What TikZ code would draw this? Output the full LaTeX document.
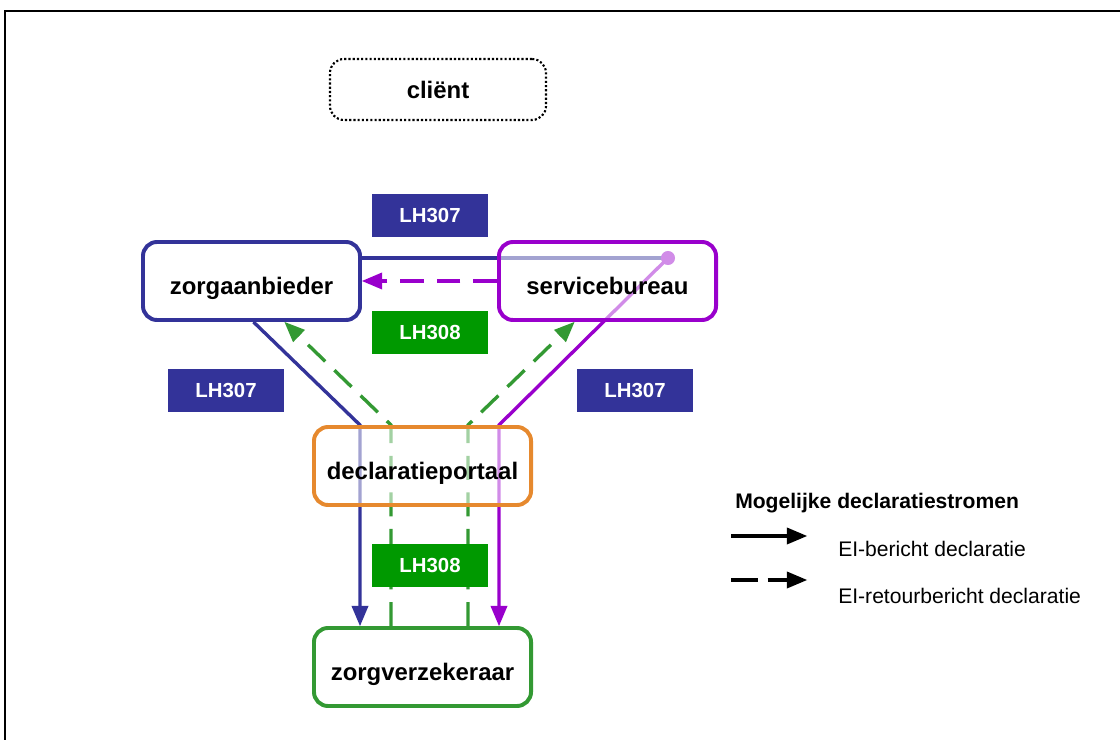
\documentclass[tikz,border=0pt]{standalone}
\usepackage{fontspec}
\setmainfont{Liberation Sans}
\usetikzlibrary{calc}
\usetikzlibrary{arrows}
\usetikzlibrary{backgrounds}
\definecolor{lhblue}{HTML}{333399}
\definecolor{lhpurple}{HTML}{9900CC}
\definecolor{lhgreen}{HTML}{339933}
\definecolor{lhlabelgreen}{HTML}{009900}
\definecolor{lhorange}{HTML}{E6892E}

\begin{document}
\begin{tikzpicture}[x=0.025cm, y=-0.025cm]
  \tikzset{mybox/.style={rectangle, rounded corners=10pt, inner sep=0pt, minimum width=5.425cm, minimum height=1.95cm, line width=2.8pt, fill=white, fill opacity=0.55, text opacity=1, font=\bfseries\fontsize{17}{20}\selectfont}};
  \tikzset{mypartner/.style={mybox, text height=19pt, text depth=0pt}};
  \tikzset{mylabel/.style={rectangle, inner sep=0pt, minimum width=2.9cm, minimum height=1.075cm, text=white, font=\bfseries\fontsize{14.5}{17}\selectfont}};
  \tikzset{myedge/.style={->, line width=2.4pt, >=triangle 45}};
  \tikzset{mydashed/.style={myedge, dash pattern=on 17pt off 9pt}};
  \tikzset{legtext/.style={anchor=west, inner sep=0pt, font=\fontsize{15}{18}\selectfont}};

  \useasboundingbox (0,0) rectangle (1120,740);
  \draw [line width=1.5pt] (5,11) rectangle (1130,750);

  \node[mybox, draw=black, line width=1.5pt, dash pattern=on 1.5pt off 1.5pt, minimum width=5.4cm, minimum height=1.525cm] (client) at (438,89.5) {cliënt};
  \node[mypartner, draw=lhblue] (zab) at (251.5,281) {zorgaanbieder};
  \node[mypartner, draw=lhpurple] (sb) at (607.5,281) {servicebureau};
  \node[mypartner, draw=lhorange] (dp) at (422.5,466) {declaratieportaal};
  \node[mypartner, draw=lhgreen] (zv) at (422.5,667) {zorgverzekeraar};

  \node[mylabel, fill=lhblue] (lhtop) at (430,215.5) {LH307};
  \node[mylabel, fill=lhlabelgreen] (lhmid) at (430,332.5) {LH308};
  \node[mylabel, fill=lhblue] (lhleft) at (226,390.5) {LH307};
  \node[mylabel, fill=lhblue] (lhright) at (635,390.5) {LH307};
  \node[mylabel, fill=lhlabelgreen] (lhbottom) at (430,565.5) {LH308};

  \coordinate (colA) at (360,0);  \coordinate (colB) at (391,0);
  \coordinate (colC) at (468,0);  \coordinate (colD) at (499,0);
  \coordinate (sbdot) at (668,258);

  \begin{pgfonlayer}{background}
    % LH307 stromen
    \draw [line width=2.4pt, lhblue] ($(zab.east)+(0,-23)$) -- (sbdot);
    \draw [myedge, lhblue] ($(zab.south)+(2,0)$) -- (dp.north -| colA) -- (zv.north -| colA);
    \fill [lhpurple] (sbdot) circle (5pt);
    \draw [myedge, lhpurple] (sbdot) -- (dp.north -| colD) -- (zv.north -| colD);

    % LH308 stromen
    \draw [mydashed, lhpurple] (sb.west) -- (zab.east);
    \draw [mydashed, lhgreen] (zv.north -| colB) -- (dp.north -| colB) -- ($(zab.south)+(33,0)$);
    \draw [mydashed, lhgreen] (zv.north -| colC) -- (dp.north -| colC) -- ($(sb.south)+(-33,0)$);
  \end{pgfonlayer}

  % legenda
  \node[legtext, font=\bfseries\fontsize{15}{18}\selectfont] (legtitle) at (735,503) {Mogelijke declaratiestromen};
  \coordinate (legA1) at (731,536);  \coordinate (legA2) at (807,536);
  \coordinate (legB1) at (731,580);  \coordinate (legB2) at (807,580);
  \draw [myedge, black] (legA1) -- (legA2);
  \draw [mydashed, black, dash pattern=on 19pt off 7pt] (legB1) -- (legB2);
  \node[legtext] (legsolid) at (838,549) {EI-bericht declaratie};
  \node[legtext] (legdashed) at (838,596) {EI-retourbericht declaratie};

\end{tikzpicture}
\end{document}
